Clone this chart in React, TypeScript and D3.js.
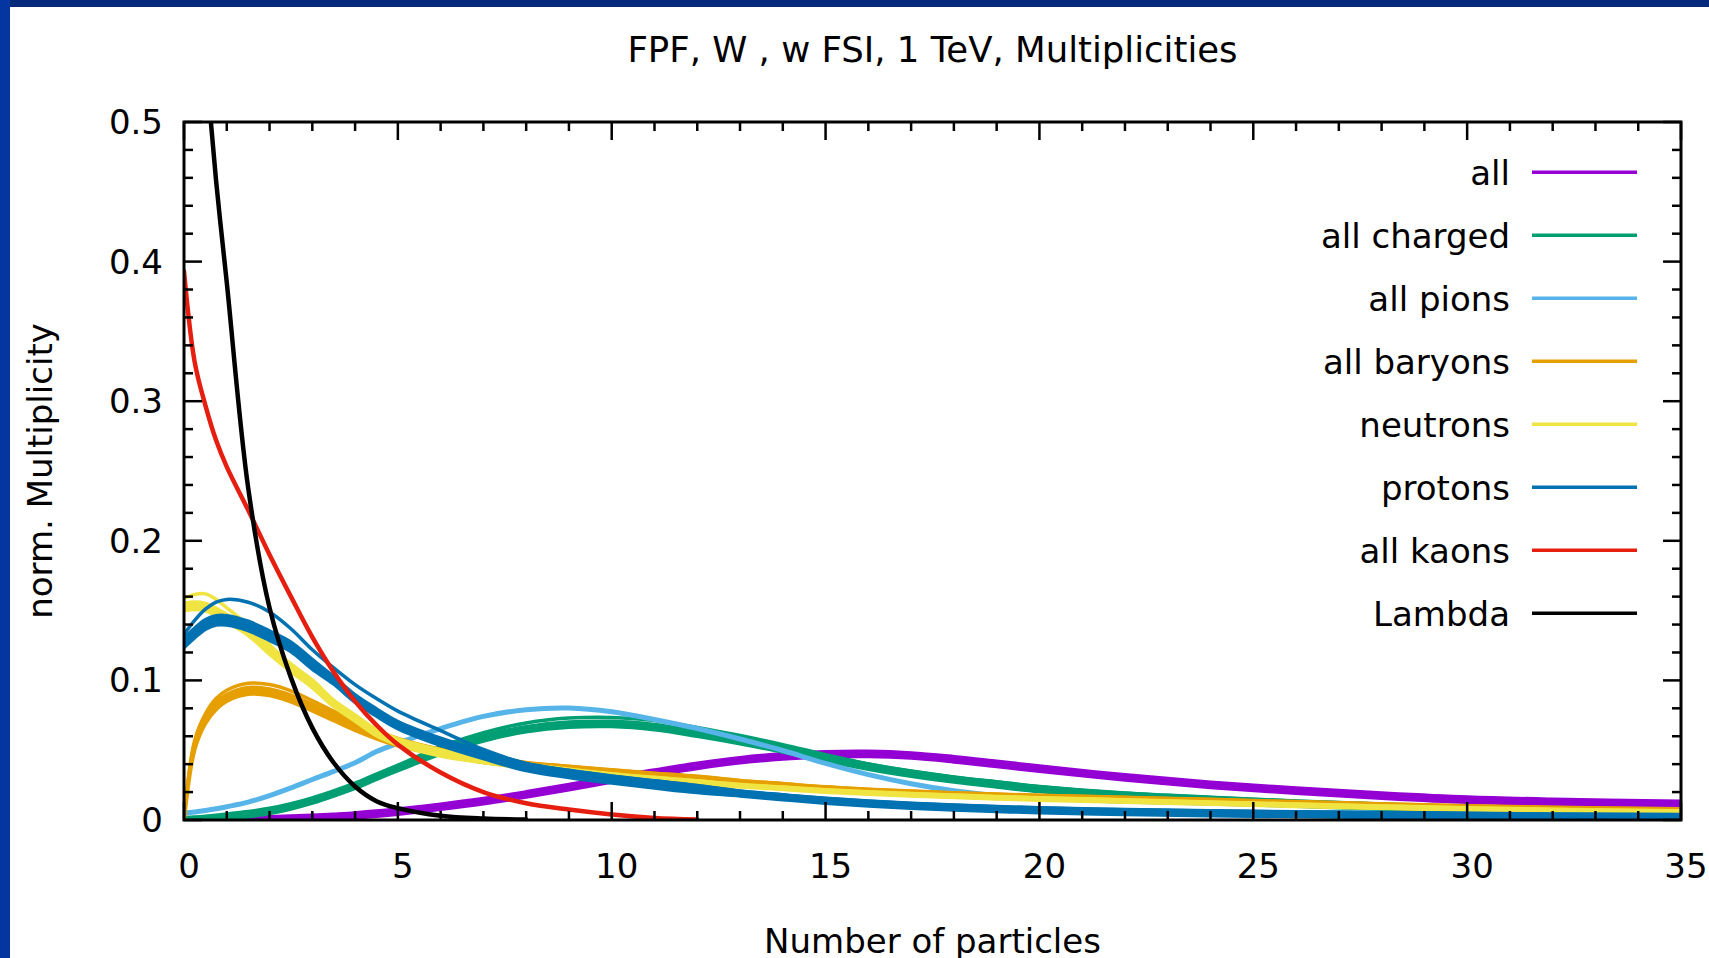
import React from 'react';
import * as d3 from 'd3';

// ---------- data ----------
const nParticles = [0, 0.25, 0.5, 0.75, 1, 1.5, 2, 2.5, 3, 3.5, 4, 4.5, 5, 6, 7, 8, 9, 10, 11, 12, 13, 14, 15, 16, 17, 18, 19, 20, 22, 24, 26, 28, 30, 32, 35];

// all (purple) – band of curves
const allHi = [.0012, .0012, .0013, .0014, .0015, .0018, .0022, .0026, .0032, .004, .0049, .0062, .0077, .0112, .0152, .02, .0252, .0307, .0357, .0405, .0445, .0472, .0487, .049, .0479, .0452, .0419, .0385, .0322, .0269, .0227, .0192, .0163, .0147, .0132];
const allLo = [0, 0, 0, 0, 0, 0, 0, 0, 0, .0006, .0015, .0028, .0043, .0078, .0118, .0166, .0218, .0273, .0323, .0371, .0411, .0438, .0453, .0456, .0445, .0418, .0385, .0351, .0288, .0235, .0193, .0158, .0129, .0113, .0098];

// all charged (green)
const chargedHi = [.0017, .002, .0025, .0032, .0041, .0059, .0082, .0115, .0157, .0207, .0262, .0327, .0389, .0507, .0602, .0667, .07, .0705, .0682, .0635, .0582, .0522, .0459, .0399, .0349, .0307, .0272, .0239, .0191, .0161, .0135, .0113, .0094, .0079, .0062];
const chargedLo = [0, 0, 0, 0, .0007, .0025, .0048, .0081, .0123, .0173, .0228, .0293, .0355, .0473, .0568, .0633, .0666, .0671, .0648, .0601, .0548, .0488, .0425, .0365, .0315, .0273, .0238, .0205, .0157, .0127, .0101, .0079, .006, .0045, .0028];
const chargedTop = [0, .0003, .0008, .0015, .0025, .0044, .0068, .0102, .0146, .0198, .0256, .0322, .0392, .0525, .0625, .0695, .073, .0735, .0712, .0663, .0605, .054, .0468, .0402, .0349, .0307, .0272, .0239, .0191, .0161, .0135, .0113, .0094, .0079, .0062];

// all pions (light blue)
const pions = [.005, .0058, .0068, .008, .0095, .0128, .0175, .023, .029, .0348, .041, .049, .055, .0655, .0742, .079, .0802, .0775, .072, .0655, .058, .0498, .0405, .0325, .026, .021, .0176, .0155, .0135, .012, .0105, .0092, .008, .0072, .0062];

// all baryons (orange)
const baryonsHi = [0, .0552, .0737, .0837, .0897, .0947, .0937, .0892, .0827, .0757, .0687, .0627, .0577, .0503, .045, .0411, .0383, .0358, .0334, .0311, .0282, .0259, .0236, .0219, .0206, .0194, .0184, .0176, .0161, .0146, .013, .0115, .01, .009, .0078];
const baryonsLo = [0, .0508, .0693, .0793, .0853, .0903, .0893, .0848, .0783, .0713, .0643, .0583, .0533, .0467, .0414, .0375, .0347, .0322, .0298, .0275, .0254, .0231, .0208, .0191, .0178, .0166, .0156, .0148, .0133, .0118, .0102, .0087, .0072, .0062, .005];
const baryonsTop = [0, .057, .076, .087, .093, .098, .097, .0925, .0855, .078, .0712, .064, .0585, .0505, .045, .0411, .0383, .0358, .0334, .0311, .0282, .0259, .0236, .0219, .0206, .0194, .0184, .0176, .0161, .0146, .013, .0115, .01, .009, .0078];

// neutrons (yellow)
const neutronsHi = [.155, .156, .155, .1515, .147, .1375, .124, .1115, .1, .0855, .075, .0645, .058, .05, .0437, .0397, .0362, .033, .0304, .0279, .0253, .0234, .0215, .02, .0188, .0177, .0167, .0158, .0143, .0128, .0113, .0099, .0086, .0076, .0064];
const neutronsLo = [.15, .151, .15, .1465, .142, .1325, .119, .1065, .095, .0815, .071, .0605, .054, .046, .0413, .0373, .0338, .0306, .028, .0255, .0239, .022, .0201, .0186, .0174, .0163, .0153, .0144, .0129, .0114, .0099, .0085, .0072, .0062, .005];
const neutronsTop = [.1585, .1615, .162, .158, .152, .1395, .1255, .1115, .1, .0855, .075, .0645, .058, .05, .0437, .0397, .0362, .033, .0304, .0279, .0253, .0234, .0215, .02, .0188, .0177, .0167, .0158, .0143, .0128, .0113, .0099, .0086, .0076, .0064];

// protons (blue)
const protonsHi = [.1302, .1372, .1432, .1462, .1462, .1422, .1352, .1272, .1147, .1024, .0894, .0794, .0704, .0584, .0489, .0404, .0354, .0314, .0279, .0246, .0206, .0179, .0154, .0134, .0118, .0105, .0095, .0086, .0073, .0064, .0058, .0052, .0047, .0042, .0037];
const protonsLo = [.1238, .1308, .1368, .1398, .1398, .1358, .1288, .1208, .1083, .0976, .0846, .0746, .0656, .0536, .0441, .0356, .0306, .0266, .0231, .0198, .0174, .0147, .0122, .0102, .0086, .0073, .0063, .0054, .0041, .0032, .0026, .002, .0015, .001, .0005];
const protonsTop = [.133, .143, .151, .156, .158, .156, .149, .137, .122, .109, .097, .087, .078, .064, .0505, .0404, .0354, .0314, .0279, .0246, .0206, .0179, .0154, .0134, .0118, .0105, .0095, .0086, .0073, .0064, .0058, .0052, .0047, .0042, .0037];

// all kaons (red) and Lambda (black); null = no data
const kaons = [.393, .328, .297, .272, .253, .222, .19, .16, .131, .106, .085, .068, .054, .034, .02, .012, .0075, .004, .0015, .0003, null, null, null, null, null, null, null, null, null, null, null, null, null, null, null];
const lambda = [.72, .63, .545, .458, .385, .238, .152, .102, .066, .041, .024, .0135, .0085, .003, .001, .0003, null, null, null, null, null, null, null, null, null, null, null, null, null, null, null, null, null, null, null];

const legendLabels = ['all', 'all charged', 'all pions', 'all baryons', 'neutrons', 'protons', 'all kaons', 'Lambda'];
const seriesColors = ['#9400d3', '#009e73', '#56b4e9', '#e69f00', '#f0e442', '#0072b2', '#e51e10', '#000000'];

const xMajorTicks = [0, 5, 10, 15, 20, 25, 30, 35];
const yMajorTicks = [0, 0.1, 0.2, 0.3, 0.4, 0.5];
const yTickLabels = ['0', '0.1', '0.2', '0.3', '0.4', '0.5'];

const titleText = 'FPF, W , w FSI, 1 TeV, Multiplicities';
const xLabel = 'Number of particles';
const yLabel = 'norm. Multiplicity';

// ---------- component ----------
export default function App() {
  const W = 1709, H = 958;
  const L = 184, R = 1681, T = 122, B = 820;
  const font = '"DejaVu Sans", Verdana, sans-serif';
  const fs = 34;

  const x = d3.scaleLinear().domain([0, 35]).range([L, R]);
  const y = d3.scaleLinear().domain([0, 0.5]).range([B, T]);
  const curve = d3.curveCatmullRom.alpha(0.5);

  const linePath = (vals: (number | null)[]) =>
    d3.line<number | null>()
      .defined((v) => v != null)
      .x((_, i) => x(nParticles[i]))
      .y((v) => y(v as number))
      .curve(curve)(vals) || '';

  const areaPath = (lo: number[], hi: number[]) =>
    d3.area<number>()
      .x((_, i) => x(nParticles[i]))
      .y0((_, i) => y(lo[i]))
      .y1((_, i) => y(hi[i]))
      .curve(curve)(lo) || '';

  const xMinor = d3.range(0, 36, 1).filter((v) => v % 5 !== 0);
  const yMinor = d3.range(0, 26, 1).map((k) => k * 0.02).filter((_, k) => k % 5 !== 0);

  const band = (lo: number[], hi: number[], color: string, key: string) => (
    <path key={key} d={areaPath(lo, hi)} fill={color} stroke={color} strokeWidth={4} strokeLinejoin="round" />
  );
  const ln = (vals: (number | null)[], color: string, w: number, key: string) => (
    <path key={key} d={linePath(vals)} fill="none" stroke={color} strokeWidth={w} strokeLinejoin="round" strokeLinecap="round" />
  );

  const legendY0 = 172.3, legendDy = 63;

  return (
    <svg width={W} height={H} style={{ position: 'absolute', left: 0, top: 0, background: '#fff' }} fontFamily={font}>
      <rect x={0} y={0} width={W} height={H} fill="#ffffff" />
      <rect x={0} y={0} width={W} height={7} fill="#052a7c" />
      <rect x={0} y={0} width={10} height={H} fill="#0535a0" />

      <text x={(L + R) / 2} y={62} textAnchor="middle" fontSize={35.5} fill="#000">{titleText}</text>

      <defs>
        <clipPath id="plotClip">
          <rect x={L} y={T} width={R - L} height={B - T} />
        </clipPath>
      </defs>

      <g clipPath="url(#plotClip)">
        {band(allLo, allHi, seriesColors[0], 'all')}
        {band(chargedLo, chargedHi, seriesColors[1], 'ch')}
        {ln(chargedTop, seriesColors[1], 3.5, 'chTop')}
        {ln(pions, seriesColors[2], 5, 'pi')}
        {band(baryonsLo, baryonsHi, seriesColors[3], 'bar')}
        {ln(baryonsTop, seriesColors[3], 3.5, 'barTop')}
        {band(neutronsLo, neutronsHi, seriesColors[4], 'neu')}
        {ln(neutronsTop, seriesColors[4], 3.5, 'neuTop')}
        {band(protonsLo, protonsHi, seriesColors[5], 'pro')}
        {ln(protonsTop, seriesColors[5], 3.5, 'proTop')}
        {ln(kaons, seriesColors[6], 4.5, 'k')}
        {ln(lambda, seriesColors[7], 4.5, 'lam')}
      </g>

      {/* ticks */}
      <g stroke="#000" strokeWidth={2.5}>
        {xMajorTicks.map((t) => (
          <g key={'xM' + t}>
            <line x1={x(t)} x2={x(t)} y1={B} y2={B - 18} />
            <line x1={x(t)} x2={x(t)} y1={T} y2={T + 18} />
          </g>
        ))}
        {xMinor.map((t) => (
          <g key={'xm' + t}>
            <line x1={x(t)} x2={x(t)} y1={B} y2={B - 9} />
            <line x1={x(t)} x2={x(t)} y1={T} y2={T + 9} />
          </g>
        ))}
        {yMajorTicks.map((t) => (
          <g key={'yM' + t}>
            <line x1={L} x2={L + 18} y1={y(t)} y2={y(t)} />
            <line x1={R} x2={R - 18} y1={y(t)} y2={y(t)} />
          </g>
        ))}
        {yMinor.map((t) => (
          <g key={'ym' + t}>
            <line x1={L} x2={L + 9} y1={y(t)} y2={y(t)} />
            <line x1={R} x2={R - 9} y1={y(t)} y2={y(t)} />
          </g>
        ))}
      </g>
      <rect x={L} y={T} width={R - L} height={B - T} fill="none" stroke="#000" strokeWidth={3} />

      {/* tick labels */}
      {xMajorTicks.map((t) => (
        <text key={'xl' + t} x={x(t) + 5} y={878} textAnchor="middle" fontSize={fs} fill="#000">{String(t)}</text>
      ))}
      {yMajorTicks.map((t, i) => (
        <text key={'yl' + t} x={163} y={y(t) + 12} textAnchor="end" fontSize={fs} fill="#000">{yTickLabels[i]}</text>
      ))}

      <text x={(L + R) / 2} y={953} textAnchor="middle" fontSize={fs} fill="#000">{xLabel}</text>
      <text transform={`translate(52, ${(T + B) / 2}) rotate(-90)`} textAnchor="middle" fontSize={fs} fill="#000">{yLabel}</text>

      {/* legend */}
      {legendLabels.map((lab, i) => {
        const cy = legendY0 + i * legendDy;
        return (
          <g key={'lg' + i}>
            <text x={1510} y={cy + 12.5} textAnchor="end" fontSize={fs} fill="#000">{lab}</text>
            <line x1={1532} x2={1637} y1={cy} y2={cy} stroke={seriesColors[i]} strokeWidth={3.5} />
          </g>
        );
      })}
    </svg>
  );
}
